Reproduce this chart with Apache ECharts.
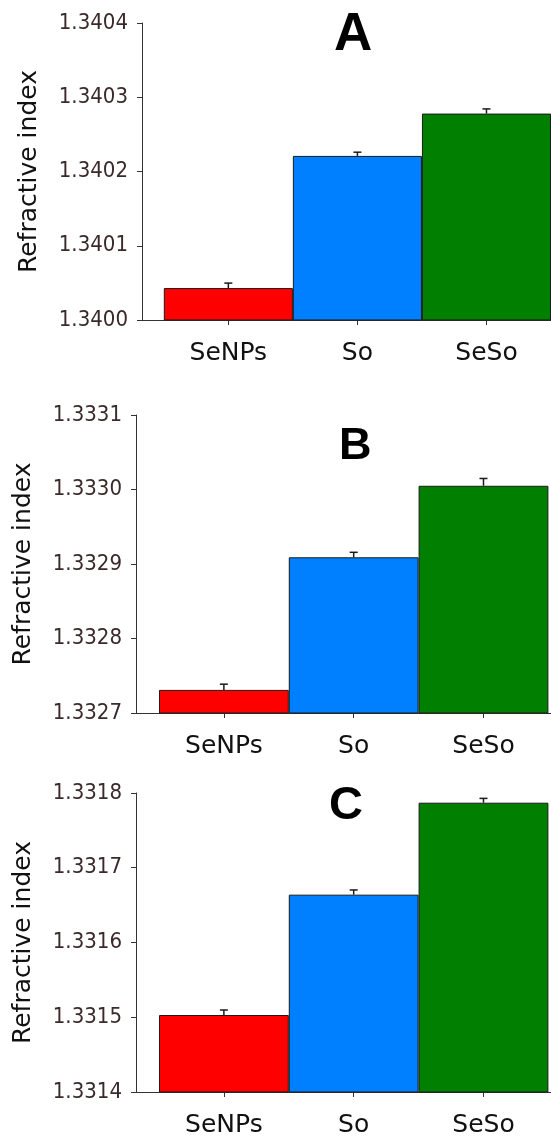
<!DOCTYPE html>
<html>
<head>
<meta charset="utf-8">
<script src="https://cdn.jsdelivr.net/npm/echarts@6/dist/echarts.min.js"></script>
<style>
  html, body { margin: 0; padding: 0; background: #fff; }
  #chart { width: 551px; height: 1138px; }
</style>
</head>
<body>
<div id="chart"></div>
<script>
// ---- data ----
const categories = ['SeNPs', 'So', 'SeSo'];
const panelLabels = ['A', 'B', 'C'];

const valuesA = [1.340043, 1.340221, 1.340278];
const errorsA = [0.0000067, 0.0000050, 0.0000063];
const valuesB = [1.332731, 1.332909, 1.333005];
const errorsB = [0.0000077, 0.0000067, 0.0000098];
const valuesC = [1.331503, 1.331664, 1.331787];
const errorsC = [0.0000067, 0.0000063, 0.0000058];

// y-axis tick ranges [min, max] with step
const yRangeA = [1.3400, 1.3404];
const yRangeB = [1.3327, 1.3331];
const yRangeC = [1.3314, 1.3318];
const yStep = 0.0001;

// ---- styles / layout ----
const barColors = ['#ff0000', '#0080ff', '#007f00'];
const layouts = [
  { left: 142, top: 23, width: 412, height: 297, xMin: 0.331, xMax: 3.5,
    title: { left: 334, top: 9, size: 53 } },
  { left: 136, top: 415, width: 416, height: 298, xMin: 0.323, xMax: 3.52,
    title: { left: 339, top: 424, size: 45 } },
  { left: 136, top: 793, width: 416, height: 299, xMin: 0.323, xMax: 3.52,
    title: { left: 329, top: 783, size: 47 } }
];

const panels = [
  { values: valuesA, errors: errorsA, range: yRangeA },
  { values: valuesB, errors: errorsB, range: yRangeB },
  { values: valuesC, errors: errorsC, range: yRangeC }
];

const grid = [], xAxis = [], yAxis = [], series = [], title = [];
const positions = categories.map((c, j) => j + 1);

panels.forEach((p, i) => {
  const L = layouts[i];
  grid.push({ left: L.left, top: L.top, width: L.width, height: L.height, containLabel: false });
  title.push({
    text: panelLabels[i], left: L.title.left, top: L.title.top, padding: 0,
    textStyle: { fontFamily: 'Liberation Sans', fontWeight: 'bold', fontSize: L.title.size, color: '#000' }
  });
  xAxis.push({
    type: 'value', gridIndex: i, min: L.xMin, max: L.xMax,
    splitLine: { show: false },
    axisLine: { show: true, onZero: false, lineStyle: { color: '#333', width: 1 } },
    axisTick: { show: true, customValues: positions, length: 5, lineStyle: { color: '#333' } },
    axisLabel: {
      customValues: positions, margin: 21,
      formatter: v => categories[Math.round(v) - 1] || '',
      fontFamily: 'DejaVu Sans', fontSize: 25, color: '#111'
    }
  });
  yAxis.push({
    type: 'value', gridIndex: i, min: p.range[0], max: p.range[1], interval: yStep,
    name: 'Refractive index', nameLocation: 'middle', nameGap: 100,
    nameTextStyle: { fontFamily: 'DejaVu Sans', fontSize: 25, color: '#111' },
    splitLine: { show: false },
    axisLine: { show: true, lineStyle: { color: '#333', width: 1 } },
    axisTick: { show: true, length: 5, lineStyle: { color: '#333' } },
    axisLabel: {
      formatter: v => v.toFixed(4), margin: 14,
      fontFamily: 'DejaVu Sans Condensed, Liberation Sans', fontSize: 22, color: '#3a2a2a'
    }
  });
  series.push({
    type: 'bar', xAxisIndex: i, yAxisIndex: i, barWidth: '100%',
    clip: true,
    data: p.values.map((v, j) => ({
      value: [positions[j], v],
      itemStyle: { color: barColors[j], borderColor: '#1a1a1a', borderWidth: 1 }
    }))
  });
  series.push({
    type: 'custom', xAxisIndex: i, yAxisIndex: i, z: 5,
    encode: { x: 0, y: [1, 2] },
    data: p.values.map((v, j) => [positions[j], v, v + p.errors[j]]),
    renderItem: (params, api) => {
      const base = api.coord([api.value(0), api.value(1)]);
      const top = api.coord([api.value(0), api.value(2)]);
      const st = { stroke: '#1a1a1a', lineWidth: 1.5 };
      return {
        type: 'group',
        children: [
          { type: 'line', shape: { x1: base[0], y1: base[1], x2: top[0], y2: top[1] }, style: st },
          { type: 'line', shape: { x1: top[0] - 4, y1: top[1], x2: top[0] + 4, y2: top[1] }, style: st }
        ]
      };
    }
  });
});

const chart = echarts.init(document.getElementById('chart'), null, { renderer: 'canvas' });
chart.setOption({
  animation: false,
  backgroundColor: '#fff',
  title, grid, xAxis, yAxis, series
});
</script>
</body>
</html>
